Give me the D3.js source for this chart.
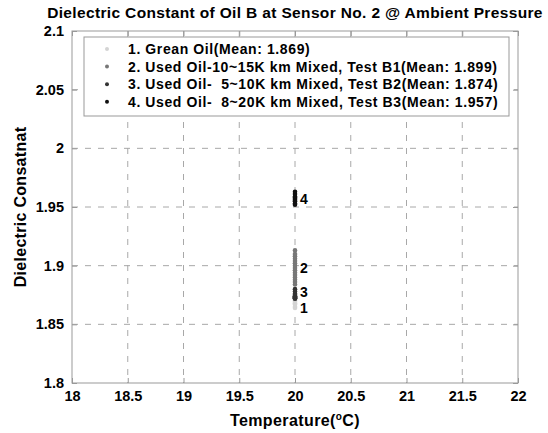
<!DOCTYPE html>
<html>
<head>
<meta charset="utf-8">
<script src="https://cdn.jsdelivr.net/npm/d3@7"></script>
<style>
  body { margin: 0; background: #fff; }
  text { font-family: "Liberation Sans", Arial, sans-serif; font-weight: bold; fill: #000; }
</style>
</head>
<body>
<svg width="548" height="433"></svg>
<script>
// readings
const seriesNames = [
  "1. Grean Oil(Mean: 1.869)",
  "2. Used Oil-10~15K km Mixed, Test B1(Mean: 1.899)",
  "3. Used Oil-  5~10K km Mixed, Test B2(Mean: 1.874)",
  "4. Used Oil-  8~20K km Mixed, Test B3(Mean: 1.957)"
];
const seriesTags = ["1", "2", "3", "4"];
const seriesTemp = [20, 20, 20, 20];
const seriesMeans = [1.869, 1.899, 1.874, 1.957];
const oil1 = [1.864, 1.865, 1.867, 1.868, 1.869, 1.870, 1.871, 1.872, 1.873, 1.872];
const oil2 = [1.884, 1.886, 1.888, 1.890, 1.892, 1.894, 1.896, 1.898, 1.900, 1.902, 1.904, 1.906, 1.908, 1.910, 1.913];
const oil3 = [1.872, 1.872, 1.872, 1.873, 1.873, 1.874, 1.874, 1.875, 1.876, 1.878, 1.880];
const oil4 = [1.952, 1.953, 1.955, 1.956, 1.957, 1.958, 1.959, 1.961, 1.963];
const xTicks = [18, 18.5, 19, 19.5, 20, 20.5, 21, 21.5, 22];
const yTicks = [1.8, 1.85, 1.9, 1.95, 2, 2.05, 2.1];

const colors = ["#d4d4d4", "#777777", "#333333", "#111111"];
const tagShift = [6, 1, -4, 0];

var svg = d3.select("svg"),
    pLeft = 72, pTop = 31, pRight = 518, pBottom = 383;

var x = d3.scaleLinear().domain([18, 22]).range([pLeft, pRight]),
    y = d3.scaleLinear().domain([1.8, 2.1]).range([pBottom, pTop]);

// grid
svg.append("g").selectAll("line")
    .data(xTicks.slice(1, -1))
    .enter().append("line")
    .attr("x1", d => x(d)).attr("x2", d => x(d))
    .attr("y1", pTop).attr("y2", pBottom)
    .attr("stroke", "#a8a8a8").attr("stroke-dasharray", "6,7");
svg.append("g").selectAll("line")
    .data(yTicks.slice(1, -1))
    .enter().append("line")
    .attr("y1", d => y(d)).attr("y2", d => y(d))
    .attr("x1", pLeft).attr("x2", pRight)
    .attr("stroke", "#a8a8a8").attr("stroke-dasharray", "6,7");

// axes, ticks pointing inwards on all four sides
function styleAxis(g) {
  g.select(".domain").remove();
  g.selectAll(".tick line").attr("stroke", "#999");
  g.selectAll(".tick text")
    .style("font-size", "14.5px").style("font-weight", "bold")
    .style("font-family", "'Liberation Sans', Arial, sans-serif")
    .attr("fill", "#000");
}
svg.append("g").attr("transform", "translate(0," + pBottom + ")")
    .call(d3.axisBottom(x).tickValues(xTicks).tickSizeInner(-5).tickSizeOuter(0).tickPadding(8).tickFormat(d3.format("")))
    .call(styleAxis);
svg.append("g").attr("transform", "translate(0," + pTop + ")")
    .call(d3.axisTop(x).tickValues(xTicks).tickSizeInner(-5).tickSizeOuter(0).tickFormat(""))
    .call(styleAxis);
svg.append("g").attr("transform", "translate(" + pLeft + ",0)")
    .call(d3.axisLeft(y).tickValues(yTicks).tickSizeInner(-5).tickSizeOuter(0).tickPadding(8).tickFormat(d3.format("")))
    .call(styleAxis);
svg.append("g").attr("transform", "translate(" + pRight + ",0)")
    .call(d3.axisRight(y).tickValues(yTicks).tickSizeInner(-5).tickSizeOuter(0).tickFormat(""))
    .call(styleAxis);

svg.append("rect")
    .attr("x", pLeft).attr("y", pTop)
    .attr("width", pRight - pLeft).attr("height", pBottom - pTop)
    .attr("fill", "none").attr("stroke", "#999");

// points
[oil1, oil2, oil3, oil4].forEach(function (vals, i) {
  svg.append("g").selectAll("circle")
      .data(vals)
      .enter().append("circle")
      .attr("cx", x(seriesTemp[i]))
      .attr("cy", d => y(d))
      .attr("r", 2.3)
      .attr("fill", colors[i]);
  svg.append("text")
      .attr("x", x(seriesTemp[i]) + 5)
      .attr("y", y(seriesMeans[i]) + tagShift[i] + 5)
      .style("font-size", "14px")
      .text(seriesTags[i]);
});

// legend
var lg = svg.append("g");
lg.append("rect")
    .attr("x", 84).attr("y", 37).attr("width", 425).attr("height", 79)
    .attr("fill", "#fff").attr("stroke", "#999");
seriesNames.forEach(function (name, i) {
  var ly = 49 + i * 17.6;
  lg.append("circle").attr("cx", 107).attr("cy", ly).attr("r", 2).attr("fill", colors[i]);
  lg.append("text")
      .attr("x", 128).attr("y", ly + 5)
      .style("font-size", "14px").style("letter-spacing", "0.6px")
      .style("white-space", "pre")
      .text(name);
});

// titles
svg.append("text")
    .attr("x", (pLeft + pRight) / 2).attr("y", 18)
    .attr("text-anchor", "middle")
    .style("font-size", "15.5px").style("letter-spacing", "0.35px")
    .text("Dielectric Constant of Oil B at Sensor No. 2 @ Ambient Pressure");

svg.append("text")
    .attr("transform", "translate(26," + ((pTop + pBottom) / 2) + ") rotate(-90)")
    .attr("text-anchor", "middle")
    .style("font-size", "16px").style("letter-spacing", "0.3px")
    .text("Dielectric Consatnat");

var xl = svg.append("text")
    .attr("x", (pLeft + pRight) / 2).attr("y", 426)
    .attr("text-anchor", "middle")
    .style("font-size", "16px").style("letter-spacing", "0.4px");
xl.append("tspan").text("Temperature(");
xl.append("tspan").attr("dy", -6).style("font-size", "10px").text("o");
xl.append("tspan").attr("dy", 6).text("C)");
</script>
</body>
</html>
